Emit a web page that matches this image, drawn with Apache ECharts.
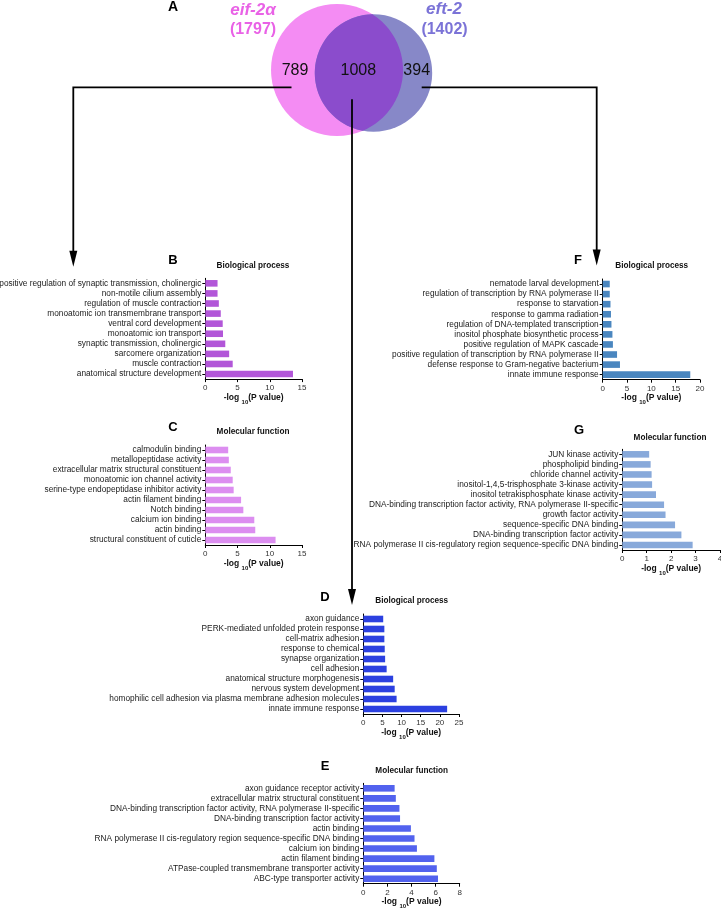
<!DOCTYPE html>
<html>
<head>
<meta charset="utf-8">
<script src="https://cdn.jsdelivr.net/npm/echarts/dist/echarts.min.js"></script>
<style>
html,body{margin:0;padding:0;background:#fff;}
#chart{width:721px;height:908px;}
</style>
</head>
<body>
<div id="chart"></div>
<script>
// ---------- DATA ----------
const vennSetNames = ['eif-2α', 'eft-2'];
const vennSetTotals = [1797, 1402];
const vennRegionCounts = [789, 1008, 394]; // eif-2α only, shared, eft-2 only

const panelLetters = ['B', 'C', 'D', 'E', 'F', 'G'];
const panelTitles = ['Biological process', 'Molecular function', 'Biological process', 'Molecular function', 'Biological process', 'Molecular function'];

const bTerms = ['positive regulation of synaptic transmission, cholinergic', 'non-motile cilium assembly', 'regulation of muscle contraction', 'monoatomic ion transmembrane transport', 'ventral cord development', 'monoatomic ion transport', 'synaptic transmission, cholinergic', 'sarcomere organization', 'muscle contraction', 'anatomical structure development'];
const bValues = [1.9, 1.9, 2.1, 2.4, 2.7, 2.75, 3.1, 3.7, 4.25, 13.6];

const cTerms = ['calmodulin binding', 'metallopeptidase activity', 'extracellular matrix structural constituent', 'monoatomic ion channel activity', 'serine-type endopeptidase inhibitor activity', 'actin filament binding', 'Notch binding', 'calcium ion binding', 'actin binding', 'structural constituent of cuticle'];
const cValues = [3.55, 3.65, 3.95, 4.25, 4.4, 5.55, 5.9, 7.6, 7.75, 10.9];

const dTerms = ['axon guidance', 'PERK-mediated unfolded protein response', 'cell-matrix adhesion', 'response to chemical', 'synapse organization', 'cell adhesion', 'anatomical structure morphogenesis', 'nervous system development', 'homophilic cell adhesion via plasma membrane adhesion molecules', 'innate immune response'];
const dValues = [5.2, 5.5, 5.5, 5.6, 5.7, 6.1, 7.8, 8.2, 8.7, 21.9];

const eTerms = ['axon guidance receptor activity', 'extracellular matrix structural constituent', 'DNA-binding transcription factor activity, RNA polymerase II-specific', 'DNA-binding transcription factor activity', 'actin binding', 'RNA polymerase II cis-regulatory region sequence-specific DNA binding', 'calcium ion binding', 'actin filament binding', 'ATPase-coupled transmembrane transporter activity', 'ABC-type transporter activity'];
const eValues = [2.6, 2.7, 3.0, 3.05, 3.95, 4.25, 4.45, 5.9, 6.1, 6.2];

const fTerms = ['nematode larval development', 'regulation of transcription by RNA polymerase II', 'response to starvation', 'response to gamma radiation', 'regulation of DNA-templated transcription', 'inositol phosphate biosynthetic process', 'positive regulation of MAPK cascade', 'positive regulation of transcription by RNA polymerase II', 'defense response to Gram-negative bacterium', 'innate immune response'];
const fValues = [1.45, 1.45, 1.6, 1.7, 1.8, 2.0, 2.1, 2.95, 3.55, 18.0];

const gTerms = ['JUN kinase activity', 'phospholipid binding', 'chloride channel activity', 'inositol-1,4,5-trisphosphate 3-kinase activity', 'inositol tetrakisphosphate kinase activity', 'DNA-binding transcription factor activity, RNA polymerase II-specific', 'growth factor activity', 'sequence-specific DNA binding', 'DNA-binding transcription factor activity', 'RNA polymerase II cis-regulatory region sequence-specific DNA binding'];
const gValues = [1.1, 1.16, 1.2, 1.22, 1.38, 1.71, 1.77, 2.16, 2.42, 2.88];

const axisMax = [15, 15, 25, 8, 20, 4];
const axisInterval = [5, 5, 5, 2, 5, 1];

// ---------- LAYOUT / STYLE ----------
const FONT = "'Liberation Sans', Arial, sans-serif";
const panels = [
  { terms: bTerms, values: bValues, color: '#b256d8', grid: { left: 205.3, top: 278.3, width: 96.7, height: 100.8 }, letter: [173, 260], title: [253, 265.7] },
  { terms: cTerms, values: cValues, color: '#dc8ef0', grid: { left: 205.3, top: 445, width: 96.7, height: 100 }, letter: [173, 427], title: [253, 432] },
  { terms: dTerms, values: dValues, color: '#2b40e0', grid: { left: 363.3, top: 614, width: 95.7, height: 100 }, letter: [325, 597], title: [411.7, 601] },
  { terms: eTerms, values: eValues, color: '#5262ee', grid: { left: 363.3, top: 783.3, width: 96.4, height: 100.4 }, letter: [325, 766.7], title: [411.7, 770.7] },
  { terms: fTerms, values: fValues, color: '#4a86bf', grid: { left: 602.7, top: 279, width: 97.3, height: 100.7 }, letter: [578, 260], title: [651.7, 266] },
  { terms: gTerms, values: gValues, color: '#88a9da', grid: { left: 622.3, top: 449.3, width: 97.7, height: 100.7 }, letter: [579, 430.7], title: [670, 437.3] }
];

const grids = [], xAxes = [], yAxes = [], series = [], graphics = [];

panels.forEach((p, i) => {
  grids.push(Object.assign({ containLabel: false, outerBoundsMode: 'none' }, p.grid));
  yAxes.push({
    type: 'category', gridIndex: i, data: p.terms, inverse: true,
    axisLine: { show: true, lineStyle: { color: '#000', width: 1 } },
    axisTick: { show: true, length: 3, alignWithLabel: true, lineStyle: { color: '#000', width: 1 } },
    axisLabel: { interval: 0, fontSize: 8.3, color: '#1a1a1a', margin: 4, fontFamily: FONT },
    splitLine: { show: false }
  });
  xAxes.push({
    type: 'value', gridIndex: i, min: 0, max: axisMax[i], interval: axisInterval[i],
    axisLine: { show: true, onZero: false, lineStyle: { color: '#000', width: 1 } },
    axisTick: { show: true, length: 3, lineStyle: { color: '#000', width: 1 } },
    axisLabel: { fontSize: 8, color: '#333', margin: 5, fontFamily: FONT },
    splitLine: { show: false },
    name: '{a|-log }{s|10}{a|(P value)}',
    nameLocation: 'middle', nameGap: 12,
    nameTextStyle: {
      rich: {
        a: { fontSize: 8.5, fontWeight: 'bold', color: '#111', fontFamily: FONT, lineHeight: 10, verticalAlign: 'top' },
        s: { fontSize: 6, fontWeight: 'bold', color: '#111', fontFamily: FONT, lineHeight: 12, verticalAlign: 'bottom' }
      }
    }
  });
  series.push({
    type: 'bar', xAxisIndex: i, yAxisIndex: i, data: p.values,
    barWidth: 6.6, silent: true, animation: false,
    itemStyle: { color: p.color }
  });
  graphics.push({
    type: 'text', x: p.letter[0], y: p.letter[1],
    style: { text: panelLetters[i], fontSize: 13, fontWeight: 'bold', fill: '#000', fontFamily: FONT, textAlign: 'center', textVerticalAlign: 'middle' }
  });
  graphics.push({
    type: 'text', x: p.title[0], y: p.title[1],
    style: { text: panelTitles[i], fontSize: 8.2, fontWeight: 'bold', fill: '#111', fontFamily: FONT, textAlign: 'center', textVerticalAlign: 'middle' }
  });
});

// ---------- VENN ----------
const pinkC = { x: 337, y: 70, r: 66 };
const blueC = { x: 373.5, y: 73, r: 58.7 };
function lensPoints(c1, c2) {
  const dx = c2.x - c1.x, dy = c2.y - c1.y, d = Math.hypot(dx, dy);
  const a = (d * d + c1.r * c1.r - c2.r * c2.r) / (2 * d);
  const th = Math.atan2(dy, dx);
  const al1 = Math.acos(a / c1.r), al2 = Math.acos((d - a) / c2.r);
  const pts = [], N = 60;
  for (let k = 0; k <= N; k++) {
    const t = th - al1 + 2 * al1 * k / N;
    pts.push([c1.x + c1.r * Math.cos(t), c1.y + c1.r * Math.sin(t)]);
  }
  for (let k = 0; k <= N; k++) {
    const t = th + Math.PI - al2 + 2 * al2 * k / N;
    pts.push([c2.x + c2.r * Math.cos(t), c2.y + c2.r * Math.sin(t)]);
  }
  return pts;
}
graphics.push({ type: 'circle', shape: { cx: pinkC.x, cy: pinkC.y, r: pinkC.r }, style: { fill: '#f48cf3' }, z: 1 });
graphics.push({ type: 'circle', shape: { cx: blueC.x, cy: blueC.y, r: blueC.r }, style: { fill: '#8788c8' }, z: 1 });
graphics.push({ type: 'polygon', shape: { points: lensPoints(pinkC, blueC) }, style: { fill: '#8b4ccc' }, z: 2 });

const vennText = (x, y, text, opts) => graphics.push({
  type: 'text', x, y, z: 5,
  style: Object.assign({ text, fontFamily: FONT, textAlign: 'center', textVerticalAlign: 'middle' }, opts)
});
vennText(173, 7.5, 'A', { fontSize: 14, fontWeight: 'bold', fill: '#000', fontFamily: "'Liberation Sans Narrow', 'Liberation Sans', Arial" });
vennText(253, 10, vennSetNames[0], { fontSize: 17, fontWeight: 'bold', fontStyle: 'italic', fill: '#e962e6' });
vennText(253, 30, '(' + vennSetTotals[0] + ')', { fontSize: 16, fontWeight: 'bold', fill: '#e962e6' });
vennText(444, 9.5, vennSetNames[1], { fontSize: 17, fontWeight: 'bold', fontStyle: 'italic', fill: '#7b73d7' });
vennText(444.5, 30, '(' + vennSetTotals[1] + ')', { fontSize: 16, fontWeight: 'bold', fill: '#7b73d7' });
vennText(295, 71, String(vennRegionCounts[0]), { fontSize: 16, fill: '#111' });
vennText(358.3, 71, String(vennRegionCounts[1]), { fontSize: 16, fill: '#111' });
vennText(416.7, 71, String(vennRegionCounts[2]), { fontSize: 16, fill: '#111' });

// ---------- CONNECTORS ----------
const LW = 1.8;
const line = (pts) => graphics.push({ type: 'polyline', z: 6, shape: { points: pts }, style: { stroke: '#000', lineWidth: LW, fill: null } });
const arrow = (x, tipY) => graphics.push({ type: 'polygon', z: 6, shape: { points: [[x - 4, tipY - 16], [x + 4, tipY - 16], [x, tipY]] }, style: { fill: '#000' } });
line([[291.5, 87.3], [73.3, 87.3], [73.3, 255]]);
arrow(73.3, 266.7);
line([[421.7, 87.3], [596.7, 87.3], [596.7, 255]]);
arrow(596.7, 265.5);
line([[352, 99.3], [352, 594]]);
arrow(352, 605);

const chart = echarts.init(document.getElementById('chart'), null, { renderer: 'canvas' });
chart.setOption({
  animation: false,
  backgroundColor: '#fff',
  textStyle: { fontFamily: FONT },
  grid: grids,
  xAxis: xAxes,
  yAxis: yAxes,
  series: series,
  graphic: graphics
});
</script>
</body>
</html>
